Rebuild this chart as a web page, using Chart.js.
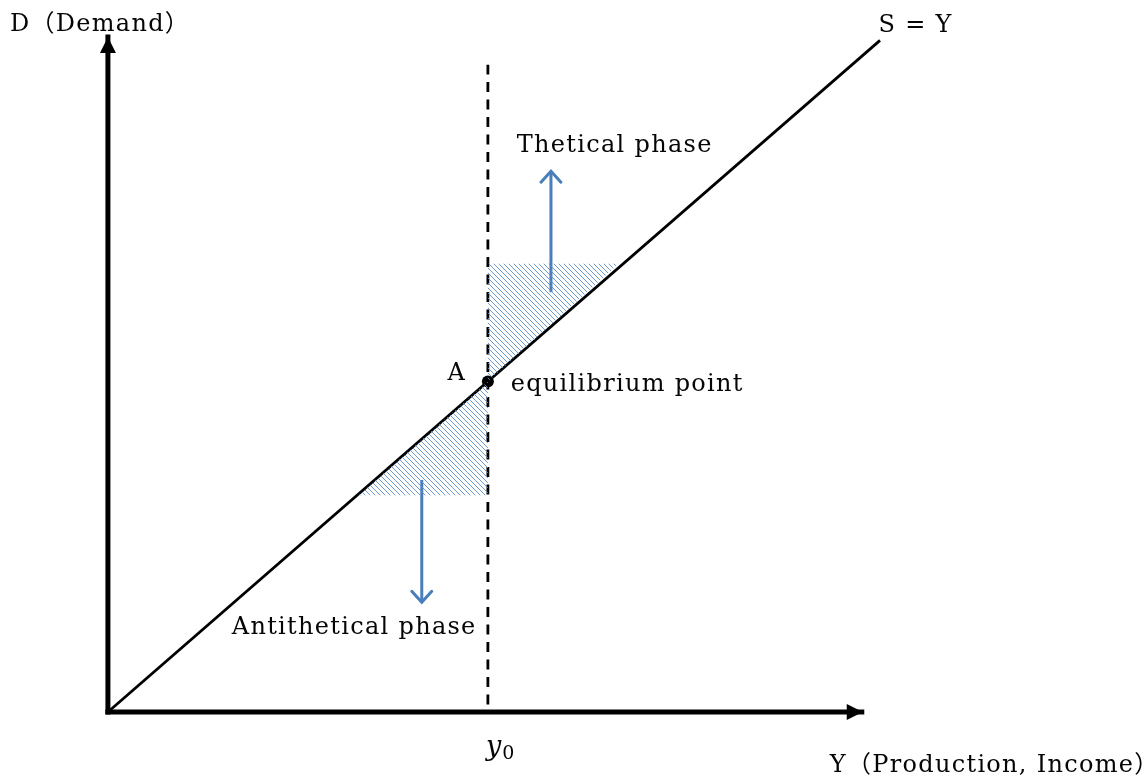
<!DOCTYPE html>
<html>
<head>
<meta charset="utf-8">
<script src="https://cdn.jsdelivr.net/npm/chart.js@4.4.1/dist/chart.umd.min.js"></script>
<style>
  html, body { margin: 0; padding: 0; background: #fff; }
  #wrap { width: 1146px; height: 776px; }
</style>
</head>
<body>
<div id="wrap"><canvas id="diagram" width="1146" height="776"></canvas></div>
<script>
// equilibrium diagram: S = Y line, y0 and the two phases

const y0 = 5;
const supplyLine = [{x: 0, y: 0}, {x: 10.16, y: 10.16}];      // S = Y
const dAxis = [{x: 0, y: 0}, {x: 0, y: 10.21}];
const yAxis = [{x: 0, y: 0}, {x: 9.92, y: 0}];
const dashedY0 = [{x: y0, y: 0}, {x: y0, y: 9.79}];
const theticalArea = [{x: y0, y: y0}, {x: y0, y: 6.78}, {x: 6.72, y: 6.78}, {x: y0, y: y0}];
const antiArea = [{x: y0, y: y0}, {x: y0, y: 3.28}, {x: 3.3, y: 3.28}, {x: y0, y: y0}];
const upArrow = [{x: 5.83, y: 6.35}, {x: 5.83, y: 8.18}];
const downArrow = [{x: 4.13, y: 3.51}, {x: 4.13, y: 1.66}];
const pointA = [{x: y0, y: y0}];

const labelTexts = ['D\uFF08Demand\uFF09', 'S = Y', 'Thetical phase', 'A', 'equilibrium point',
    'Antithetical phase', 'Y\uFF08Production, Income\uFF09'];
const labelX = [-1.29, 10.14, 5.38, 4.47, 5.30, 1.63, 9.50];
const labelY = [10.30, 10.29, 8.47, 5.02, 4.86, 1.18, -0.91];

const BLUE = '#4a7ebb';
const SERIF = '"DejaVu Serif", "Liberation Serif", "Noto Sans CJK JP", serif';

function hatch() {
    const c = document.createElement('canvas');
    c.width = 5; c.height = 5;
    const g = c.getContext('2d');
    g.strokeStyle = '#5f8fca';
    g.lineWidth = 0.9;
    g.beginPath();
    g.moveTo(-1, -1); g.lineTo(6, 6);
    g.moveTo(-1, 4); g.lineTo(1, 6);
    g.moveTo(4, -1); g.lineTo(6, 1);
    g.stroke();
    return g.createPattern(c, 'repeat');
}

const arrowHeads = {
    id: 'arrowHeads',
    afterDatasetsDraw(chart) {
        const {ctx, scales: {x, y}} = chart;
        const px = p => [x.getPixelForValue(p.x), y.getPixelForValue(p.y)];
        ctx.save();
        // filled heads on the axes
        ctx.fillStyle = '#000';
        let [tx, ty] = px(dAxis[1]);
        ctx.beginPath();
        ctx.moveTo(tx, ty); ctx.lineTo(tx - 8, ty + 16); ctx.lineTo(tx + 8, ty + 16); ctx.closePath();
        ctx.fill();
        [tx, ty] = px(yAxis[1]);
        ctx.beginPath();
        ctx.moveTo(tx + 1, ty); ctx.lineTo(tx - 15, ty - 8); ctx.lineTo(tx - 15, ty + 8); ctx.closePath();
        ctx.fill();
        // open heads on the blue arrows
        ctx.strokeStyle = BLUE;
        ctx.lineWidth = 3;
        ctx.lineCap = 'round';
        [tx, ty] = px(upArrow[1]);
        ctx.beginPath();
        ctx.moveTo(tx - 10, ty + 11); ctx.lineTo(tx, ty); ctx.lineTo(tx + 10, ty + 11);
        ctx.stroke();
        [tx, ty] = px(downArrow[1]);
        ctx.beginPath();
        ctx.moveTo(tx - 10, ty - 11); ctx.lineTo(tx, ty); ctx.lineTo(tx + 10, ty - 11);
        ctx.stroke();
        ctx.restore();
    }
};

const labels = {
    id: 'labels',
    afterDraw(chart) {
        const {ctx, scales: {x, y}} = chart;
        ctx.save();
        ctx.fillStyle = '#050505';
        ctx.textBaseline = 'alphabetic';
        ctx.textAlign = 'left';
        ctx.font = '24px ' + SERIF;
        ctx.letterSpacing = '1.3px';
        labelTexts.forEach((t, i) => {
            ctx.fillText(t, x.getPixelForValue(labelX[i]), y.getPixelForValue(labelY[i]));
        });
        // y0 tick label
        ctx.letterSpacing = '0px';
        const bx = x.getPixelForValue(y0), by = y.getPixelForValue(-0.65);
        ctx.font = 'italic 27px ' + SERIF;
        ctx.fillText('y', bx - 2, by);
        const w = ctx.measureText('y').width;
        ctx.font = '19px ' + SERIF;
        ctx.fillText('0', bx - 1 + w, by + 4);
        ctx.restore();
    }
};

const line = (data, extra) => Object.assign({
    data: data, showLine: true, pointRadius: 0, borderColor: '#000', fill: false, tension: 0
}, extra);

new Chart(document.getElementById('diagram'), {
    type: 'scatter',
    data: {
        datasets: [
            line(theticalArea, {borderWidth: 0, borderColor: 'rgba(0,0,0,0)', backgroundColor: hatch(), fill: 'shape'}),
            line(antiArea, {borderWidth: 0, borderColor: 'rgba(0,0,0,0)', backgroundColor: hatch(), fill: 'shape'}),
            line(dashedY0, {borderWidth: 2.8, borderDash: [10, 7.5], borderDashOffset: 10}),
            line(supplyLine, {borderWidth: 2.8}),
            line(dAxis, {borderWidth: 5, borderCapStyle: 'square'}),
            line(yAxis, {borderWidth: 5, borderCapStyle: 'square'}),
            line(upArrow, {borderWidth: 3, borderColor: BLUE}),
            line(downArrow, {borderWidth: 3, borderColor: BLUE}),
            {data: pointA, pointRadius: 6, pointBackgroundColor: '#000', pointBorderWidth: 0}
        ]
    },
    options: {
        responsive: false,
        animation: false,
        layout: {padding: 0, autoPadding: false},
        scales: {
            x: {type: 'linear', display: false, min: -1.42, max: 13.66},
            y: {type: 'linear', display: false, min: -0.968, max: 10.77}
        },
        plugins: {legend: {display: false}, tooltip: {enabled: false}}
    },
    plugins: [arrowHeads, labels]
});
</script>
</body>
</html>
